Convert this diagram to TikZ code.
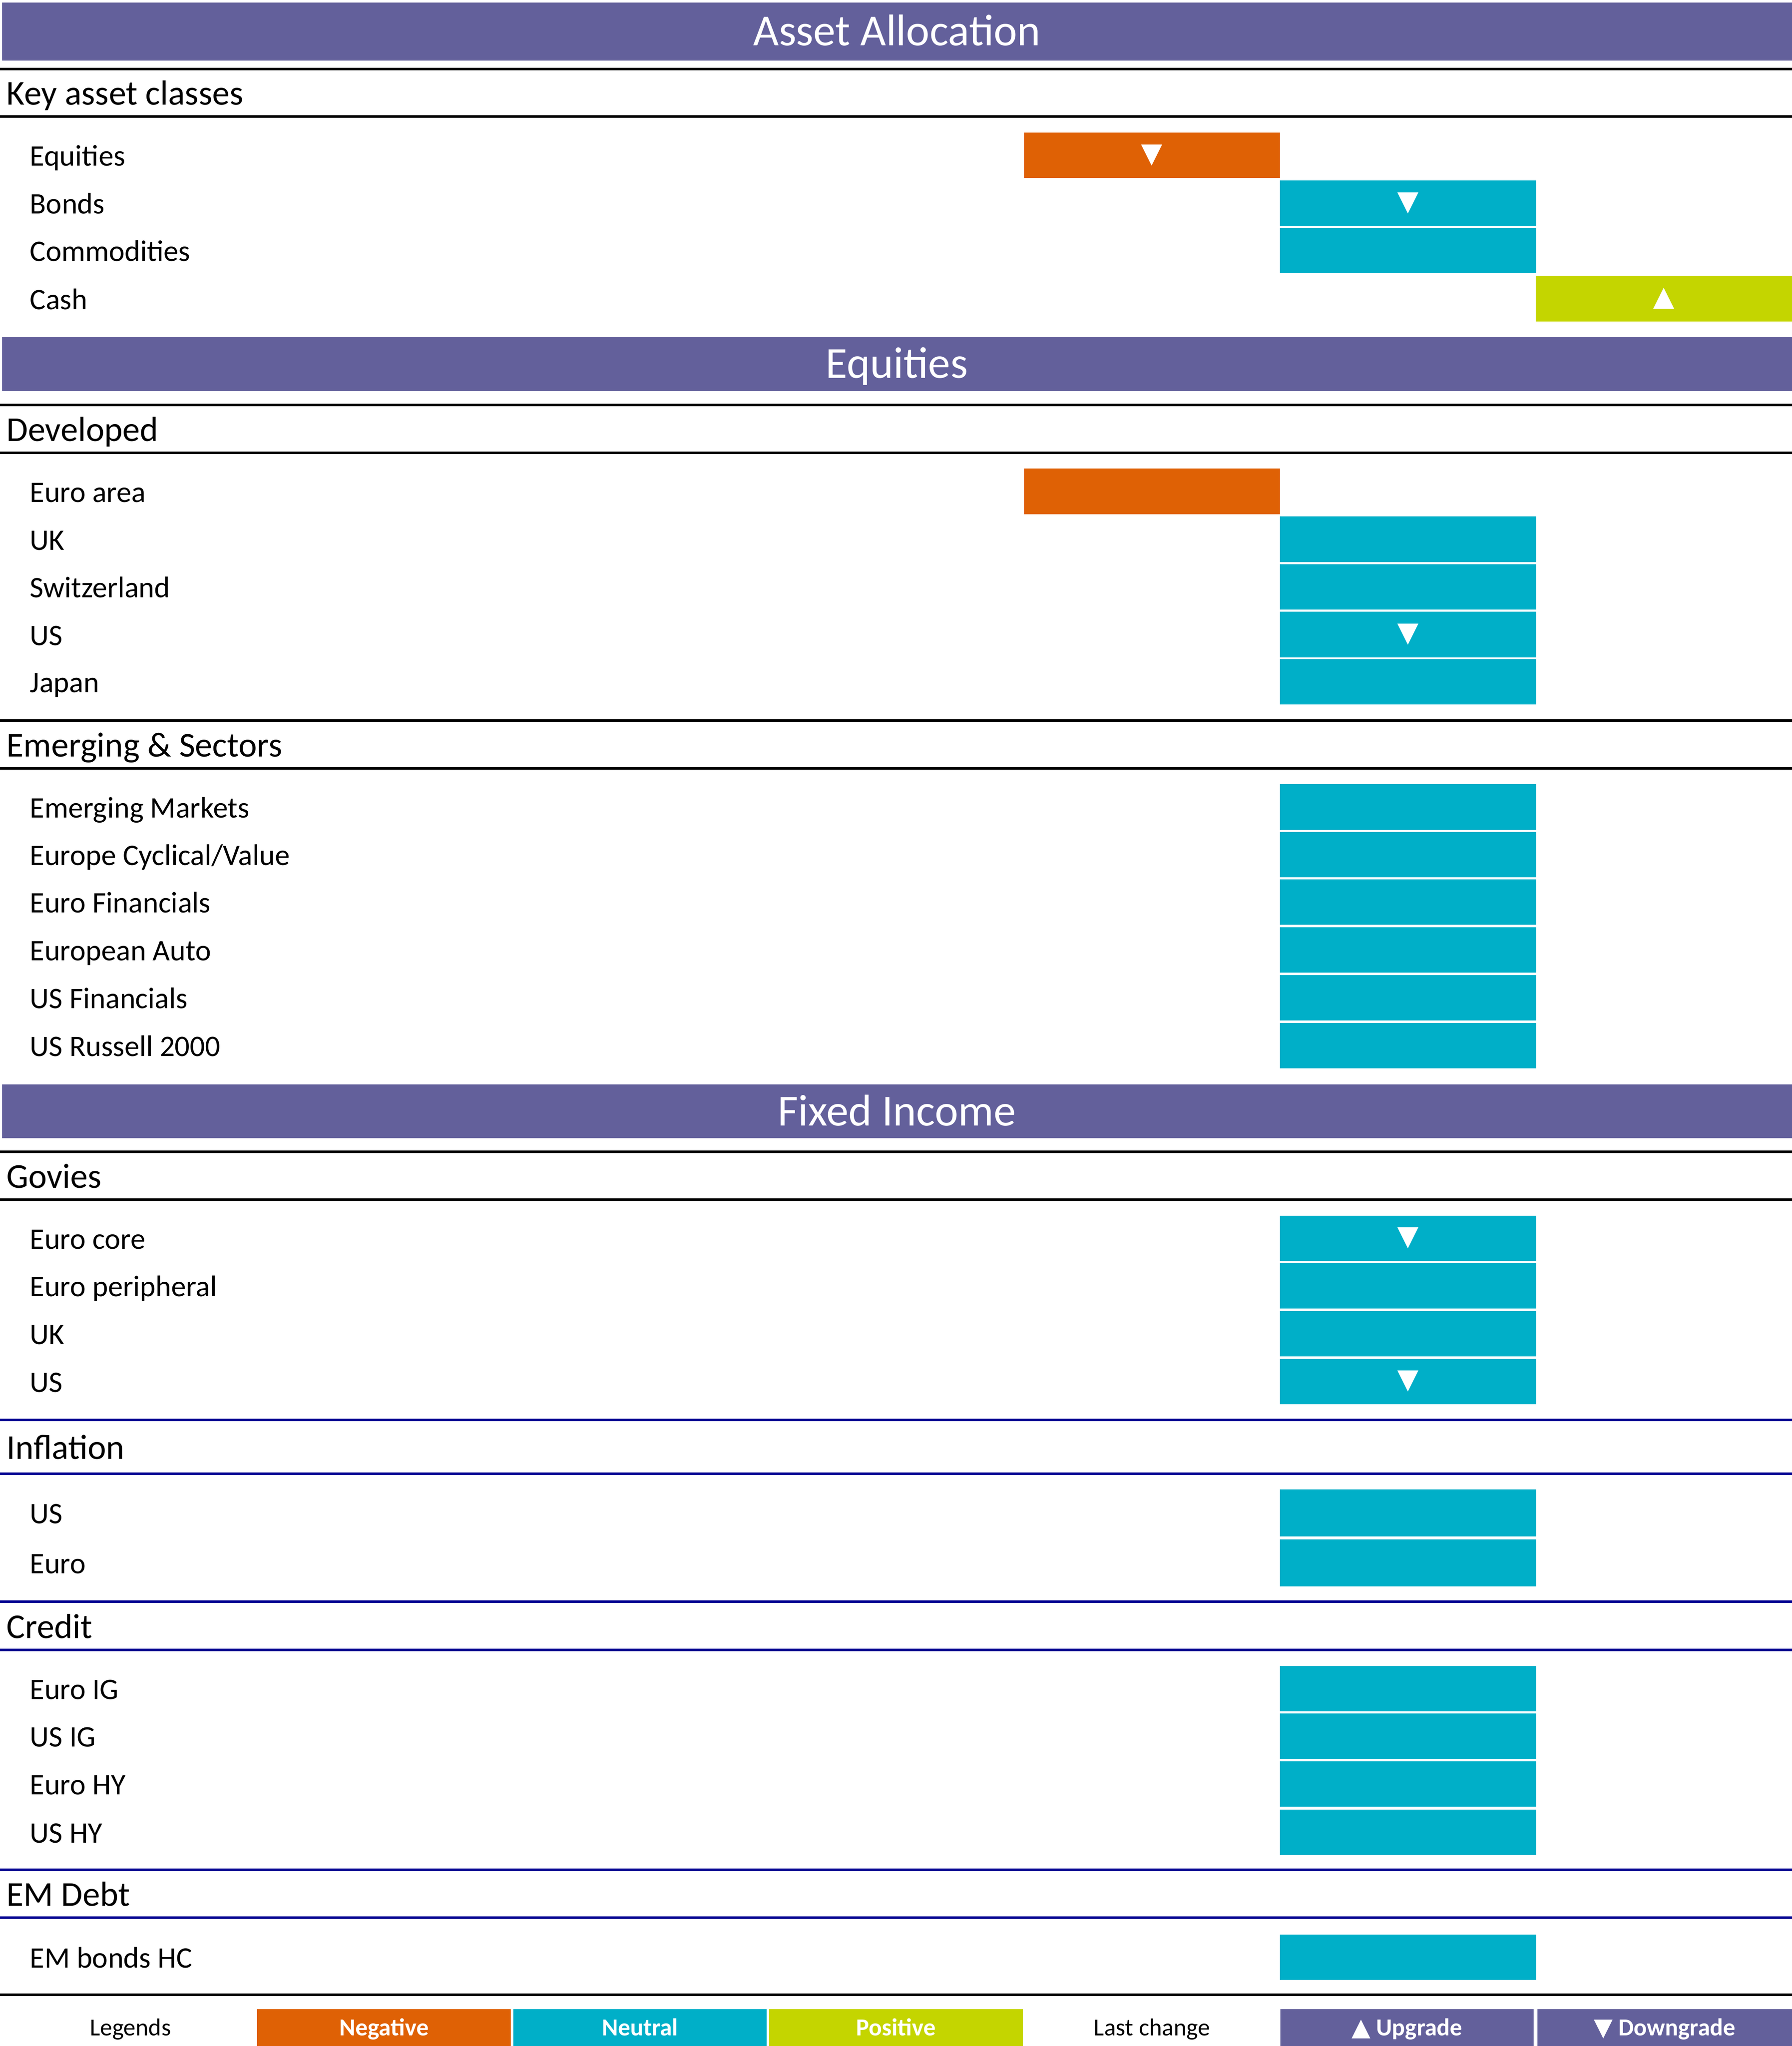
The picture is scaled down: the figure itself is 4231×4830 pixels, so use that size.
\documentclass[tikz,border=0pt]{standalone}
\usepackage{fontspec}
\setmainfont{Carlito}
\newfontfamily\symfont{DejaVu Sans}
\usetikzlibrary{positioning}
\definecolor{band}{RGB}{99,96,155}
\definecolor{neg}{RGB}{223,97,5}
\definecolor{neu}{RGB}{0,175,200}
\definecolor{pos}{RGB}{196,213,0}
\definecolor{navy}{RGB}{0,0,145}
\newcommand{\legtri}[1]{{\symfont\fontsize{16.5}{16.5}\selectfont #1}}

\begin{document}
\begin{tikzpicture}[x=0.01cm, y=-0.01cm,
	bandbox/.style={fill=band, inner sep=0, minimum width=42.27cm, minimum height=1.27cm, anchor=north west},
	titletext/.style={anchor=base, inner sep=0, text=white, font=\fontsize{29.8}{30}\selectfont},
	headtext/.style={anchor=base west, inner sep=0, font=\fontsize{23.4}{24}\selectfont},
	rowtext/.style={anchor=base west, inner sep=0, font=\fontsize{20}{21}\selectfont},
	barbox/.style={inner sep=0, minimum width=6.044cm, minimum height=1.07cm, text=white, font=\symfont\fontsize{18.5}{19}\selectfont},
	rulek/.style={line width=0.055cm, black},
	ruleb/.style={line width=0.055cm, navy},
	legbox/.style={inner sep=0, minimum width=5.984cm, minimum height=0.87cm, text height=0.374cm, text depth=0pt, text=white, font=\bfseries\fontsize{16.4}{17}\selectfont},
	legtext/.style={anchor=base, inner sep=0, font=\fontsize{16.4}{17}\selectfont}]
	\useasboundingbox (0,0) rectangle (4231,4830);

	% title bands
	\node[bandbox, minimum height=1.37cm] (bandAA) at (4,5) {};
	\node[titletext] (titleAA) at (2117.5,107.5) {Asset Allocation};
	\node[bandbox] (bandEQ) at (4,795) {};
	\node[titletext] (titleEQ) at (2117.5,892) {Equities};
	\node[bandbox] (bandFI) at (4,2559) {};
	\node[titletext] (titleFI) at (2117.5,2657) {Fixed Income};

	% rules
	\foreach \r in {163,275,956,1069,1701,1814,2719,2832,4709}
		\draw[rulek] (0,\r) -- (4231,\r);
	\foreach \r in {3352,3479,3781,3895,4414,4527}
		\draw[ruleb] (0,\r) -- (4231,\r);

	% sub headings
	\node[headtext] (hKey) at (15,248) {Key asset classes};
	\node[headtext] (hDev) at (15,1041.5) {Developed};
	\node[headtext] (hEms) at (15,1786.5) {Emerging \& Sectors};
	\node[headtext] (hGov) at (15,2804.5) {Govies};
	\node[headtext] (hInf) at (15,3444.5) {Inflation};
	\node[headtext] (hCre) at (15,3867) {Credit};
	\node[headtext] (hEmd) at (15,4499.5) {EM Debt};

	% key asset classes
	\foreach \n/\y/\t/\c/\k/\a in {eq/366.5/Equities/neg/2719.9/▼, bd/479.5/Bonds/neu/3324.4/▼,
		cm/591.5/Commodities/neu/3324.4/{}, cs/705/Cash/pos/3928.8/▲}
	{	\node[rowtext] (lab-\n) at (70,\y+25) {\t};
		\node[barbox, fill=\c] (bar-\n) at (\k,\y) {\a}; }

	% developed
	\foreach \n/\y/\t/\c/\k/\a in {ea/1160/Euro area/neg/2719.9/{}, duk/1273/UK/neu/3324.4/{},
		sw/1385.5/Switzerland/neu/3324.4/{}, dus/1498/US/neu/3324.4/▼, jp/1609.5/Japan/neu/3324.4/{}}
	{	\node[rowtext] (lab-\n) at (70,\y+25) {\t};
		\node[barbox, fill=\c] (bar-\n) at (\k,\y) {\a}; }

	% emerging and sectors
	\foreach \n/\y/\t in {em/1905/Emerging Markets, ecv/2017.5/{Europe Cyclical/Value}, ef/2129.5/Euro Financials,
		eau/2242.5/European Auto, usf/2355.5/US Financials, rus/2468.5/US Russell 2000}
	{	\node[rowtext] (lab-\n) at (70,\y+25) {\t};
		\node[barbox, fill=neu] (bar-\n) at (3324.4,\y) {}; }

	% govies
	\foreach \n/\y/\t/\a in {ec/2923/Euro core/▼, ep/3035.5/Euro peripheral/{}, guk/3148/UK/{}, gus/3261/US/▼}
	{	\node[rowtext] (lab-\n) at (70,\y+25) {\t};
		\node[barbox, fill=neu] (bar-\n) at (3324.4,\y) {\a}; }

	% inflation
	\foreach \n/\y/\t in {ius/3571.5/US, ieu/3689/Euro}
	{	\node[rowtext] (lab-\n) at (70,\y+25) {\t};
		\node[barbox, fill=neu, minimum height=1.11cm] (bar-\n) at (3324.4,\y) {}; }

	% credit and em debt
	\foreach \n/\y/\t in {eig/3986/Euro IG, uig/4098.5/US IG, ehy/4211.5/Euro HY, uhy/4325/US HY, emb/4620/EM bonds HC}
	{	\node[rowtext] (lab-\n) at (70,\y+25) {\t};
		\node[barbox, fill=neu] (bar-\n) at (3324.4,\y) {}; }

	% legend
	\node[legtext] (legL) at (308,4805) {Legends};
	\node[legbox, fill=neg] (legNeg) at (906.6,4786.5) {Negative};
	\node[legbox, fill=neu] (legNeu) at (1511.1,4786.5) {Neutral};
	\node[legbox, fill=pos] (legPos) at (2115.5,4786.5) {Positive};
	\node[legtext] (legLC) at (2720,4805) {Last change};
	\node[legbox, fill=band] (legUp) at (3322,4786.5) {\legtri{▲} Upgrade};
	\node[legbox, fill=band, minimum width=6.01cm] (legDn) at (3930.5,4786.5) {\legtri{▼} Downgrade};
\end{tikzpicture}
\end{document}
